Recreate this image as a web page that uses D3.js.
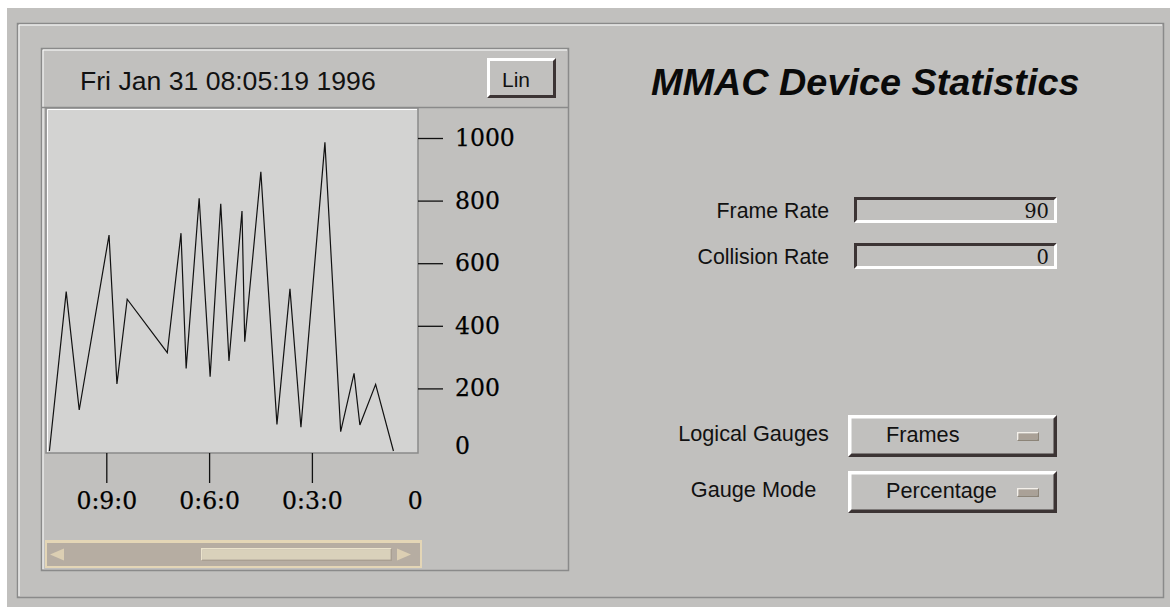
<!DOCTYPE html>
<html>
<head>
<meta charset="utf-8">
<script src="https://cdn.jsdelivr.net/npm/d3@7"></script>
<style>
  body { margin: 0; background: #fff; }
  svg { display: block; }
  .serif text { font-family: "DejaVu Serif", serif; }
</style>
</head>
<body>
<svg id="graph" width="1170" height="607"></svg>
<script>
// samples: minutes before "now" and frame count
const minutesAgo = [ 10.66, 10.17, 9.79, 8.92, 8.69, 8.39, 7.22, 6.82, 6.67, 6.29, 5.97, 5.66, 5.42,
  5.04, 4.96, 4.49, 4.02, 3.64, 3.32, 2.62, 2.16, 1.77, 1.60, 1.14, 0.62 ];
const frames = [ 0, 509, 131, 690, 214, 485, 314, 696, 264, 807, 237, 790, 288,
  767, 349, 892, 85, 518, 76, 986, 62, 248, 83, 213, 0 ];
const yTicks = [ 0, 200, 400, 600, 800, 1000 ];
const xTicks = [ 9, 6, 3, 0 ];
const xTickLabels = [ "0:9:0", "0:6:0", "0:3:0", "0" ];

const stampText = "Fri Jan 31 08:05:19 1996";
const titleText = "MMAC Device Statistics";
const rateLabels = [ "Frame Rate", "Collision Rate" ];
const rateValues = [ 90, 0 ];
const gaugeLabels = [ "Logical Gauges", "Gauge Mode" ];
const gaugeValues = [ "Frames", "Percentage" ];

const BG = "#c1c0be";
const DARK = "#3c3434";
const SANS = "'Liberation Sans', Arial, sans-serif";

const svg = d3.select( "#graph" );

// page background
svg.append( "rect" ).attr( "x", 7 ).attr( "y", 8 ).attr( "width", 1163 ).attr( "height", 599 ).attr( "fill", BG );

// etched frame: grey line with white line inside
function etched( x, y, w, h ) {
  svg.append( "rect" ).attr( "x", x + 0.5 ).attr( "y", y + 0.5 ).attr( "width", w ).attr( "height", h )
    .attr( "fill", "none" ).attr( "stroke", "#8a8a8a" ).attr( "stroke-width", 1.5 );
  svg.append( "path" )
    .attr( "d", `M${x + 2},${y + h - 1}V${y + 2}H${x + w - 1}` )
    .attr( "fill", "none" ).attr( "stroke", "#fff" ).attr( "stroke-width", 1 );
}

function bevel( x, y, w, h, t, topLeft, bottomRight ) {
  svg.append( "path" )
    .attr( "d", `M${x},${y}H${x + w}L${x + w - t},${y + t}H${x + t}V${y + h - t}L${x},${y + h}Z` )
    .attr( "fill", topLeft );
  svg.append( "path" )
    .attr( "d", `M${x + w},${y}V${y + h}H${x}L${x + t},${y + h - t}H${x + w - t}V${y + t}Z` )
    .attr( "fill", bottomRight );
}

etched( 17, 23, 1146, 574 );
etched( 41, 48, 527, 522 );

// header separator
svg.append( "line" ).attr( "x1", 42 ).attr( "x2", 568 ).attr( "y1", 107.5 ).attr( "y2", 107.5 )
  .attr( "stroke", "#8a8a8a" ).attr( "stroke-width", 1.5 );

svg.append( "text" ).attr( "x", 80 ).attr( "y", 90 )
  .attr( "font-family", SANS ).attr( "font-size", 26.6 ).attr( "fill", "#111" )
  .text( stampText );

// Lin button
bevel( 487, 58, 69, 40, 3, "#fff", DARK );
svg.append( "text" ).attr( "x", 516 ).attr( "y", 87 ).attr( "text-anchor", "middle" )
  .attr( "font-family", SANS ).attr( "font-size", 21 ).attr( "fill", "#111" )
  .text( "Lin" );

// plot area
const plot = { left: 46, right: 418, top: 108, bottom: 453 };
svg.append( "rect" ).attr( "x", plot.left ).attr( "y", plot.top )
  .attr( "width", plot.right - plot.left ).attr( "height", plot.bottom - plot.top )
  .attr( "fill", "#d3d3d2" ).attr( "stroke", "#8a8a8a" ).attr( "stroke-width", 1.5 );
svg.append( "path" )
  .attr( "d", `M${plot.left + 1.5},${plot.bottom - 1}V${plot.top + 1.5}H${plot.right - 1}` )
  .attr( "fill", "none" ).attr( "stroke", "#fff" ).attr( "stroke-width", 1 );

const xScale = d3.scaleLinear().domain( [ 0, 9 ] ).range( [ 414.7, 106.3 ] );
const yScale = d3.scaleLinear().domain( [ 0, 1000 ] ).range( [ 451, 138 ] );

const yAxis = d3.axisRight( yScale ).tickValues( yTicks ).tickSize( 25 ).tickPadding( 12 ).tickFormat( d => d );
const xAxis = d3.axisBottom( xScale ).tickValues( xTicks ).tickSize( 30 ).tickPadding( 9 )
  .tickFormat( ( d, i ) => xTickLabels[i] );

const gy = svg.append( "g" ).attr( "class", "serif" )
  .attr( "transform", `translate(${plot.right},0)` ).call( yAxis );
const gx = svg.append( "g" ).attr( "class", "serif" )
  .attr( "transform", `translate(0,${plot.bottom})` ).call( xAxis );

[ gx, gy ].forEach( g => {
  g.select( ".domain" ).remove();
  g.selectAll( ".tick line" ).attr( "stroke", "#111" ).attr( "stroke-width", 1.3 );
  g.selectAll( ".tick" ).filter( d => d === 0 ).select( "line" ).remove();
  g.selectAll( ".tick text" ).attr( "font-size", 23.5 ).attr( "fill", "#000" )
    .attr( "stroke", "#000" ).attr( "stroke-width", 0.25 );
} );
gy.selectAll( ".tick" ).filter( d => d === 0 ).select( "text" ).attr( "dy", "0.1em" );

const lineFunc = d3.line()
  .x( ( d, i ) => xScale( minutesAgo[i] ) )
  .y( d => yScale( d ) );

svg.append( "path" )
  .attr( "d", lineFunc( frames ) )
  .attr( "fill", "none" )
  .attr( "stroke", "#111" )
  .attr( "stroke-width", 1.2 );

// scrollbar
svg.append( "rect" ).attr( "x", 45 ).attr( "y", 540 ).attr( "width", 377 ).attr( "height", 28 ).attr( "fill", "#e4d6b6" );
svg.append( "rect" ).attr( "x", 47 ).attr( "y", 543 ).attr( "width", 373 ).attr( "height", 23 ).attr( "fill", "#b6ada2" );
bevel( 201, 548, 191, 13, 1.5, "#ebe3cc", "#a99f92" );
svg.append( "rect" ).attr( "x", 202.5 ).attr( "y", 549.5 ).attr( "width", 188 ).attr( "height", 10 ).attr( "fill", "#d9d1bb" );
svg.append( "path" ).attr( "d", "M50,554.5L64,548.5V560.5Z" ).attr( "fill", "#dccfb3" );
svg.append( "path" ).attr( "d", "M411,554.5L397,548.5V560.5Z" ).attr( "fill", "#dccfb3" );

// title
svg.append( "text" ).attr( "x", 651 ).attr( "y", 95 )
  .attr( "font-family", SANS ).attr( "font-size", 37.8 ).attr( "font-weight", "bold" ).attr( "font-style", "italic" )
  .attr( "fill", "#0a0a0a" )
  .text( titleText );

// rate fields
const rateRows = [ 197, 243 ];
rateLabels.forEach( ( label, i ) => {
  const y0 = rateRows[i];
  svg.append( "text" ).attr( "x", 829 ).attr( "y", y0 + 21 ).attr( "text-anchor", "end" )
    .attr( "font-family", SANS ).attr( "font-size", 21.3 ).attr( "fill", "#111" )
    .text( label );
  bevel( 854, y0, 203, 26, 3, DARK, "#fff" );
  svg.append( "text" ).attr( "x", 1049 ).attr( "y", y0 + 21 ).attr( "text-anchor", "end" )
    .attr( "font-family", "'DejaVu Serif', serif" ).attr( "font-size", 19.5 ).attr( "fill", "#111" )
    .text( rateValues[i] );
} );

// option menus
const gaugeRows = [ 415, 471 ];
gaugeLabels.forEach( ( label, i ) => {
  const y0 = gaugeRows[i];
  svg.append( "text" ).attr( "x", 753.5 ).attr( "y", y0 + 26 ).attr( "text-anchor", "middle" )
    .attr( "font-family", SANS ).attr( "font-size", 21.7 ).attr( "fill", "#111" )
    .text( label );
  bevel( 848, y0, 209, 42, 3.5, "#fff", DARK );
  svg.append( "text" ).attr( "x", 886 ).attr( "y", y0 + 27 )
    .attr( "font-family", SANS ).attr( "font-size", 21.7 ).attr( "fill", "#111" )
    .text( gaugeValues[i] );
  bevel( 1017, y0 + 17, 22, 9, 1.5, "#f4f0ea", "#8c8478" );
  svg.append( "rect" ).attr( "x", 1018.5 ).attr( "y", y0 + 18.5 ).attr( "width", 19 ).attr( "height", 6 ).attr( "fill", "#aaa197" );
} );
</script>
</body>
</html>
